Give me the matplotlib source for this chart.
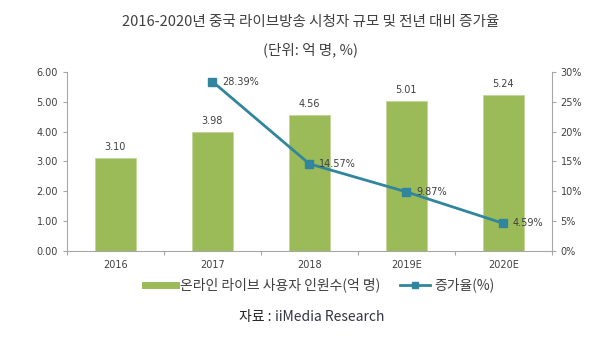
import matplotlib
matplotlib.use("Agg")
import matplotlib.pyplot as plt
from matplotlib.lines import Line2D

plt.rcParams['font.family'] = ['Noto Sans CJK KR', 'DejaVu Sans']

years = ["2016", "2017", "2018", "2019E", "2020E"]
users = [3.10, 3.98, 4.56, 5.01, 5.24]
growth_years = ["2017", "2018", "2019E", "2020E"]
growth = [28.39, 14.57, 9.87, 4.59]

bar_color = "#9bbb59"
line_color = "#31859c"
tick_color = "#404040"
num_font = ["DejaVu Sans"]

fig = plt.figure(figsize=(6.15, 3.41), dpi=100)
ax = fig.add_axes([0.109, 0.265, 0.788, 0.524])
ax2 = ax.twinx()

x = list(range(len(years)))
ax.bar(x, users, width=0.42, color=bar_color, edgecolor="#c3d69b", lw=0.6, zorder=2)
for xi, v in zip(x, users):
    ax.text(xi, v + 0.2, f"{v:.2f}", ha="center", va="bottom", fontsize=7,
            color=tick_color, family=num_font)

gx = [years.index(y) for y in growth_years]
ax2.plot(gx, growth, color=line_color, lw=2, marker="s", ms=6, zorder=3)
for xi, v in zip(gx, growth):
    ax2.text(xi + 0.1, v, f"{v:.2f}%", ha="left", va="center", fontsize=7,
             color=tick_color, family=num_font)

ax.set_xlim(-0.5, 4.5)
ax.set_ylim(0, 6)
ax.set_yticks([0, 1, 2, 3, 4, 5, 6])
ax.set_yticklabels([f"{v:.2f}" for v in range(7)], family=num_font)
ax2.set_ylim(0, 30)
ax2.set_yticks(range(0, 31, 5))
ax2.set_yticklabels([f"{v}%" for v in range(0, 31, 5)], family=num_font)
ax.set_xticks(x)
ax.set_xticklabels(years, family=num_font)
ax.set_xticks([i - 0.5 for i in range(len(years) + 1)], minor=True)

for a in (ax, ax2):
    for s in a.spines.values():
        s.set_color("#a6a6a6")
    a.spines["top"].set_visible(False)
    a.tick_params(colors=tick_color, labelsize=7, length=3, width=0.8)
    a.tick_params(axis="y", color="#a6a6a6")
ax.tick_params(axis="x", which="major", length=0, pad=7)
ax.tick_params(axis="x", which="minor", length=3, width=0.8, color="#a6a6a6")
ax.spines["right"].set_visible(False)
ax2.spines["left"].set_visible(False)
ax2.spines["bottom"].set_visible(False)

fig.text(0.505, 0.935, "2016-2020년 중국 라이브방송 시청자 규모 및 전년 대비 증가율",
         ha="center", va="center", fontsize=10.5, color="#404040")
fig.text(0.505, 0.853, "(단위: 억 명, %)", ha="center", va="center", fontsize=10.5, color="#404040")

handles = [Line2D([], [], color=bar_color, lw=5),
           Line2D([], [], color=line_color, lw=2, marker="s", ms=5)]
fig.legend(handles, ["온라인 라이브 사용자 인원수(억 명)", "증가율(%)"],
           loc="center", bbox_to_anchor=(0.52, 0.164), ncol=2, frameon=False,
           fontsize=10, handlelength=2.2, columnspacing=1.4, handletextpad=0.3,
           labelcolor="#404040")

fig.text(0.447, 0.07, "자료 : ", ha="right", va="center", fontsize=10, color="#222222")
fig.text(0.447, 0.07, "iiMedia Research", ha="left", va="center", fontsize=10, color="#333344")

fig.savefig("out.png", dpi=100)
